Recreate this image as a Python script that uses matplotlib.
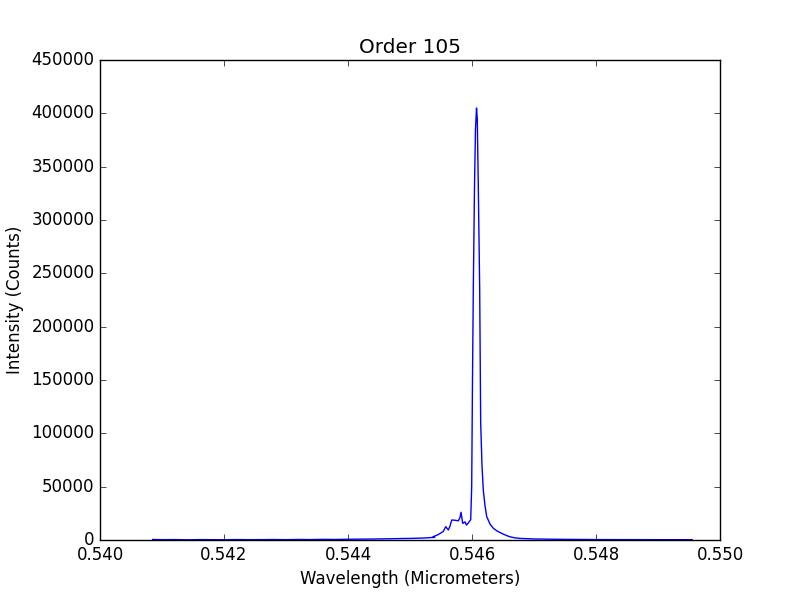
import matplotlib
matplotlib.use("Agg")
import matplotlib.pyplot as plt
from matplotlib.ticker import FormatStrFormatter, MultipleLocator

plt.style.use("classic")

wavelength = [0.54085, 0.5410, 0.5412, 0.5414, 0.5416, 0.5418, 0.5420, 0.5422,
              0.5424, 0.5426, 0.5428, 0.5430, 0.5432, 0.5434, 0.5436, 0.5438,
              0.5440, 0.5442, 0.5444, 0.5446, 0.5448, 0.5450, 0.5452, 0.5454,
              0.545371, 0.545452, 0.545537, 0.545576, 0.545618, 0.545645,
              0.545673, 0.545726, 0.545779, 0.545806, 0.545823, 0.545850,
              0.545887, 0.545911, 0.545940, 0.545979, 0.545995, 0.546008,
              0.546021, 0.546040, 0.546056, 0.546073, 0.546085, 0.546102,
              0.546124, 0.546140, 0.546161, 0.546182, 0.546210, 0.546237,
              0.546290, 0.546344, 0.546403, 0.546452, 0.546505, 0.546565,
              0.546613, 0.546694, 0.546774, 0.5470, 0.5472, 0.5475, 0.5480,
              0.5485, 0.5490, 0.54955]
intensity = [500, 300, 400, 200, 350, 300, 250, 400,
             300, 350, 450, 300, 500, 400, 600, 500,
             700, 800, 900, 1100, 1300, 1500, 1800, 2500,
             3000, 5000, 8000, 12500, 9400, 13000,
             18750, 18500, 18000, 21000, 26000, 15600,
             17000, 14000, 16000, 19000, 50000, 150000,
             235000, 330000, 385000, 405000, 395000, 330000,
             235000, 110000, 70000, 47000, 32000, 22000,
             15000, 11000, 8500, 7000, 5500, 4000,
             3000, 2000, 1500, 1000, 800, 600, 400,
             350, 300, 300]

fig = plt.figure(figsize=(8, 6), dpi=100)
ax = fig.add_subplot(111)
ax.plot(wavelength, intensity, color="b", linewidth=1.0)
ax.set_xlim(0.540, 0.550)
ax.set_ylim(0, 450000)
ax.xaxis.set_major_locator(MultipleLocator(0.002))
ax.xaxis.set_major_formatter(FormatStrFormatter("%.3f"))
ax.yaxis.set_major_locator(MultipleLocator(50000))
ax.yaxis.set_major_formatter(FormatStrFormatter("%d"))
ax.set_title("Order 105")
ax.set_xlabel("Wavelength (Micrometers)")
ax.set_ylabel("Intensity (Counts)")
fig.savefig("out.png", dpi=100)
